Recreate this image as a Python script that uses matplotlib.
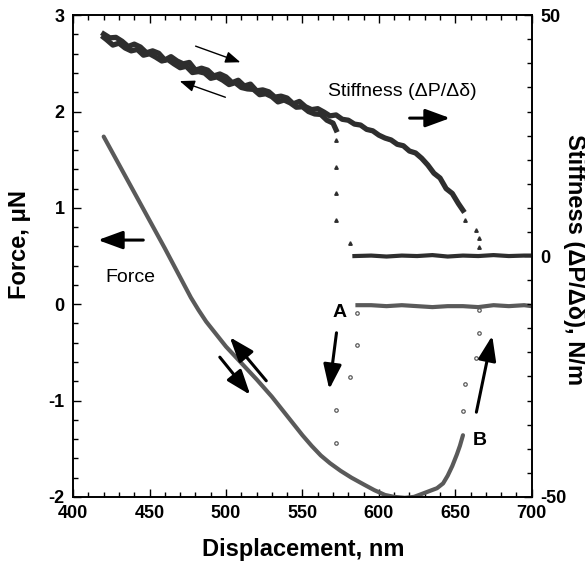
import matplotlib.pyplot as plt
from matplotlib.ticker import MultipleLocator

plt.rcParams['font.family'] = ['Liberation Sans', 'DejaVu Sans']

# force curve (left axis, uN)
force_x = [420, 430, 440, 450, 460, 466, 472, 477, 482, 487, 493, 500, 510, 520,
           530, 540, 550, 556, 562, 568, 575, 582, 590, 597, 604, 610, 617, 623,
           628, 633, 638, 642, 645, 648, 651, 653, 655]
force_y = [1.74, 1.45, 1.16, 0.87, 0.58, 0.40, 0.22, 0.07, -0.06, -0.18, -0.30,
           -0.44, -0.61, -0.78, -0.96, -1.16, -1.36, -1.47, -1.57, -1.65, -1.73,
           -1.80, -1.87, -1.93, -1.98, -2.0, -2.01, -2.0, -1.97, -1.94, -1.91,
           -1.86, -1.78, -1.68, -1.56, -1.47, -1.36]

# force jump points (circles)
jumpA_x = [571.9, 571.9, 581.0, 585.6, 586.0]
jumpA_y = [-1.44, -1.10, -0.755, -0.42, -0.09]
jumpB_x = [654.9, 656.2, 663.4, 665.4, 665.4]
jumpB_y = [-1.11, -0.83, -0.56, -0.30, -0.06]

# force after contact lost
fbase_x = [586, 595, 605, 615, 625, 635, 645, 655, 665, 675, 685, 695, 700]
fbase_y = [-0.01, -0.01, -0.02, -0.01, -0.02, -0.03, -0.02, -0.02, -0.03, -0.01, -0.02, -0.01, -0.02]

# stiffness, loading branch (right axis, N/m)
load_x = [420, 424, 428, 432, 436, 440, 444, 448, 452, 456, 460, 464, 468, 472,
          476, 480, 484, 488, 492, 496, 500, 504, 508, 512, 516, 520, 524, 528,
          532, 536, 540, 544, 548, 552, 556, 560, 564, 568, 572, 576, 580, 584,
          588, 592, 596, 600, 604, 608, 612, 616, 620, 624, 628, 632, 636, 640,
          644, 648, 652, 655]
load_s = [46.1, 45.3, 45.4, 44.6, 43.5, 44.0, 43.4, 42.2, 42.6, 42.1, 40.7, 41.4,
          40.5, 39.9, 40.2, 38.6, 39.0, 38.6, 37.4, 37.8, 37.2, 36.0, 36.5, 35.3,
          35.7, 34.3, 34.5, 34.1, 33.0, 33.2, 32.8, 31.6, 32.1, 31.0, 30.4, 30.6,
          29.9, 29.1, 29.3, 28.4, 28.2, 27.4, 27.2, 26.3, 26.0, 25.1, 24.5, 24.1,
          23.2, 22.9, 21.8, 21.4, 20.3, 18.9, 17.2, 16.2, 14.0, 13.0, 10.9, 9.5]

# stiffness, unloading branch
unl_x = [572, 570, 566, 562, 558, 554, 550, 546, 542, 538, 534, 530, 526, 522,
         518, 514, 510, 506, 502, 498, 494, 490, 486, 482, 478, 474, 470, 466,
         462, 458, 454, 450, 446, 442, 438, 434, 430, 426, 422, 420]
unl_s = [26.2, 27.6, 28.2, 29.4, 29.5, 30.0, 31.0, 30.9, 31.8, 32.4, 32.0, 33.1,
         33.7, 33.5, 34.6, 34.7, 35.0, 36.0, 35.6, 36.5, 37.2, 36.9, 38.0, 38.3,
         38.1, 39.4, 39.1, 39.9, 40.8, 40.5, 41.3, 42.0, 41.7, 42.9, 42.6, 43.2,
         44.2, 43.8, 44.9, 45.4]

# stiffness drop points (triangles)
dropA_x = [571.9, 571.9, 571.9, 571.9, 581.0]
dropA_s = [24.1, 18.5, 13.1, 7.5, 2.7]
dropB_x = [656.2, 663.4, 665.4, 665.4]
dropB_s = [7.5, 5.4, 3.7, 1.9]

sbase_x = [584, 595, 605, 615, 625, 635, 645, 655, 665, 675, 685, 695, 700]
sbase_s = [0.0, 0.1, -0.1, 0.1, 0.0, 0.2, -0.1, 0.1, 0.0, 0.2, 0.0, 0.1, 0.1]

fcol = '#5a5a5a'
scol = '#2e2e2e'

fig = plt.figure(figsize=(5.85, 5.64), dpi=100)
ax = fig.add_axes([0.125, 0.119, 0.784, 0.854])
ax2 = ax.twinx()

ax.plot(force_x, force_y, color=fcol, lw=3, solid_capstyle='round')
ax.plot(jumpA_x, jumpA_y, 'o', ms=2.5, mfc='none', mec=fcol, mew=0.9)
ax.plot(jumpB_x, jumpB_y, 'o', ms=2.5, mfc='none', mec=fcol, mew=0.9)
ax.plot(fbase_x, fbase_y, color=fcol, lw=3)

ax2.plot(load_x, load_s, color=scol, lw=3.8)
ax2.plot(unl_x, unl_s, color=scol, lw=3.8)
ax2.plot(dropA_x, dropA_s, '^', ms=2.5, color=scol)
ax2.plot(dropB_x, dropB_s, '^', ms=2.5, color=scol)
ax2.plot(sbase_x, sbase_s, color=scol, lw=3)

ax.set_xlim(400, 700)
ax.set_ylim(-2, 3)
ax2.set_ylim(-50, 50)

ax.xaxis.set_minor_locator(MultipleLocator(10))
ax.yaxis.set_minor_locator(MultipleLocator(0.2))
ax2.yaxis.set_minor_locator(MultipleLocator(5))

ax.set_xticks([400, 450, 500, 550, 600, 650, 700])
ax.set_xticklabels(['400', '450', '500', '550', '600', '650', '700'])
ax.set_yticks([-2, -1, 0, 1, 2, 3])
ax.set_yticklabels(['-2', '-1', '0', '1', '2', '3'])
ax2.set_yticks([-50, 0, 50])
ax2.set_yticklabels(['-50', '0', '50'])

ax.tick_params(which='both', direction='in', top=True, right=False, width=1)
ax.tick_params(which='major', length=6, labelsize=13, pad=6)
ax.tick_params(which='minor', length=3.5)
ax2.tick_params(which='both', direction='in', width=1)
ax2.tick_params(which='major', length=6, labelsize=13, pad=6)
ax2.tick_params(which='minor', length=3.5)
for lab in ax.get_xticklabels() + ax.get_yticklabels() + ax2.get_yticklabels():
    lab.set_fontweight('bold')
for a in (ax, ax2):
    for sp in a.spines.values():
        sp.set_linewidth(1.2)

fig.text(0.518, 0.026, 'Displacement, nm', fontsize=17, fontweight='bold',
         ha='center', va='center')
fig.text(0.034, 0.567, 'Force, \u03bcN', fontsize=17, fontweight='bold',
         ha='center', va='center', rotation=90)
fig.text(0.982, 0.54, 'Stiffness (\u0394P/\u0394\u03b4), N/m', fontsize=17,
         fontweight='bold', ha='center', va='center', rotation=270)

# annotations
ax.text(566.7, 2.21, 'Stiffness (\u0394P/\u0394\u03b4)', fontsize=14, va='center', ha='left')
ax.text(420.9, 0.28, 'Force', fontsize=14, va='center', ha='left')
ax.text(574.5, -0.09, 'A', fontsize=14, fontweight='bold', ha='center', va='center')
ax.text(665.7, -1.41, 'B', fontsize=14, fontweight='bold', ha='center', va='center')

thin = dict(arrowstyle='-|>,head_length=0.9,head_width=0.35', color='k', lw=1, mutation_scale=10)
thick = dict(arrowstyle='-|>,head_length=1.5,head_width=0.55', color='k', lw=2.2, mutation_scale=10)
ax.annotate('', xy=(511.1, 2.502), xytext=(478.4, 2.689), arrowprops=thin)
ax.annotate('', xy=(468.0, 2.326), xytext=(501.3, 2.139), arrowprops=thin)
ax.annotate('', xy=(648.4, 1.932), xytext=(618.3, 1.932), arrowprops=thick)
ax.annotate('', xy=(414.4, 0.666), xytext=(447.7, 0.666), arrowprops=thick)
ax.annotate('', xy=(501.3, -0.320), xytext=(527.5, -0.817), arrowprops=thick)
ax.annotate('', xy=(517.0, -0.963), xytext=(494.8, -0.527), arrowprops=thick)
ax.annotate('', xy=(567.3, -0.911), xytext=(572.5, -0.268), arrowprops=thick)
ax.annotate('', xy=(674.5, -0.299), xytext=(663.4, -1.149), arrowprops=thick)

fig.savefig('out.png', dpi=100)
